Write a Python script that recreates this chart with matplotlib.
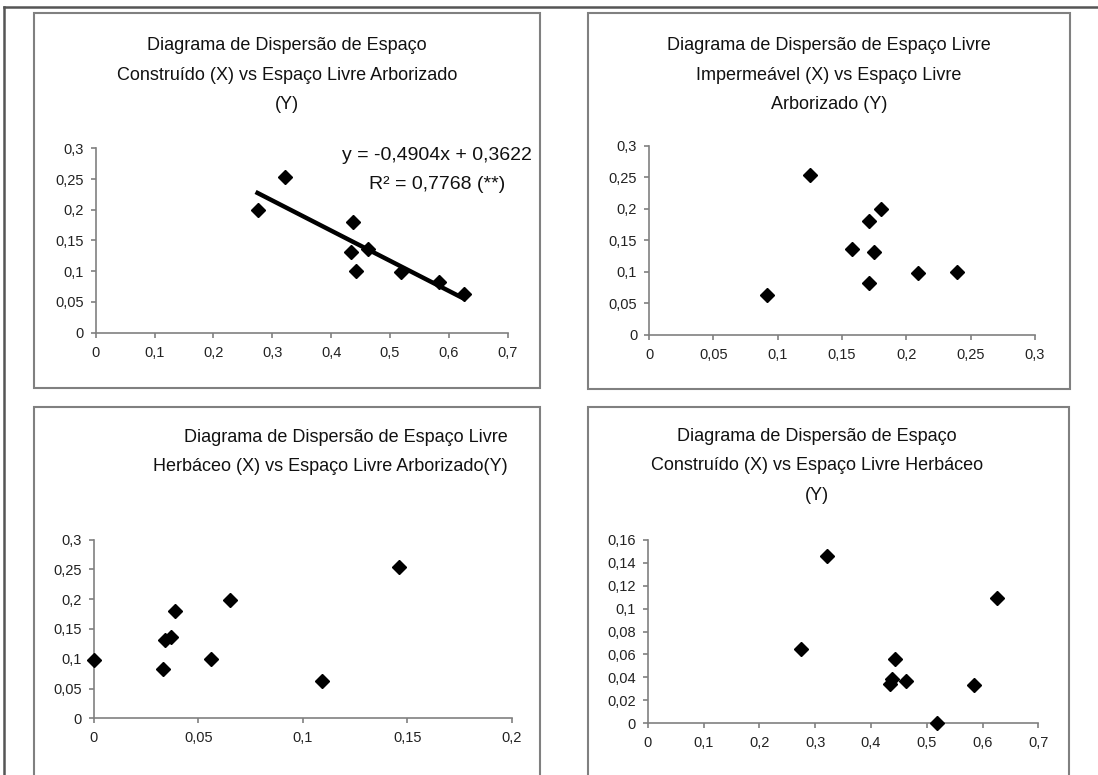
import matplotlib.pyplot as plt
import numpy as np
from matplotlib.patches import Rectangle
from matplotlib.lines import Line2D
from matplotlib.ticker import FuncFormatter, MultipleLocator

plt.rcParams['font.family'] = ['Liberation Sans', 'DejaVu Sans']

# proportions per unit (same order in every array)
construido = [0.275, 0.322, 0.434, 0.437, 0.443, 0.463, 0.519, 0.584, 0.626]
impermeavel = [0.180, 0.125, 0.175, 0.171, 0.239, 0.158, 0.209, 0.171, 0.092]
herbaceo = [0.065, 0.146, 0.034, 0.039, 0.056, 0.037, 0.000, 0.033, 0.109]
arborizado = [0.199, 0.254, 0.131, 0.180, 0.100, 0.136, 0.098, 0.082, 0.063]

# trendline given in the first chart
slope, intercept = -0.4904, 0.3622
eq_text = "y = -0,4904x + 0,3622\nR² = 0,7768 (**)"

titles = [
    "Diagrama de Dispersão de Espaço\nConstruído (X) vs Espaço Livre Arborizado\n(Y)",
    "Diagrama de Dispersão de Espaço Livre\nImpermeável (X) vs Espaço Livre\nArborizado (Y)",
    "Diagrama de Dispersão de Espaço Livre\nHerbáceo (X) vs Espaço Livre Arborizado(Y)",
    "Diagrama de Dispersão de Espaço\nConstruído (X) vs Espaço Livre Herbáceo\n(Y)",
]

W, H = 1098, 775
fig = plt.figure(figsize=(W / 100, H / 100), dpi=100)


def fx(px):
    return px / W


def fy(py):
    return 1 - py / H


# outer frame (top and left lines)
fig.add_artist(Line2D([fx(4), 1], [fy(7), fy(7)], color='#555555', lw=1.8))
fig.add_artist(Line2D([fx(4), fx(4)], [fy(7), 0], color='#555555', lw=1.8))

# panel frames: left, top, right, bottom in pixels
panels = [(34, 13, 540, 388), (588, 13, 1070, 389),
          (34, 407, 540, 790), (588, 407, 1069, 790)]
for l, t, r, b in panels:
    fig.add_artist(Rectangle((fx(l), fy(b)), fx(r) - fx(l), fy(t) - fy(b),
                             fill=False, edgecolor='#808080', lw=1.5))

fmt = FuncFormatter(lambda v, p: f"{v:g}".replace('.', ','))

# plot areas: x0, x1, ytop, ybottom in pixels
areas = [(95.7, 507.7, 148.3, 332.7), (649, 1035, 145.7, 335),
         (93.7, 511.7, 539.5, 718.3), (647.7, 1038.3, 539.8, 723.3)]
xlims = [(0, 0.7, 0.1), (0, 0.3, 0.05), (0, 0.2, 0.05), (0, 0.7, 0.1)]
ylims = [(0, 0.3, 0.05), (0, 0.3, 0.05), (0, 0.3, 0.05), (0, 0.16, 0.02)]
series = [(construido, arborizado), (impermeavel, arborizado),
          (herbaceo, arborizado), (construido, herbaceo)]

axes = []
for (x0, x1, yt, yb), xl, yl, (xs, ys) in zip(areas, xlims, ylims, series):
    ax = fig.add_axes([fx(x0), fy(yb), fx(x1) - fx(x0), fy(yt) - fy(yb)])
    ax.plot(xs, ys, linestyle='none', marker='D', ms=7.6, color='black',
            clip_on=False, zorder=3)
    ax.set_xlim(xl[0], xl[1])
    ax.set_ylim(yl[0], yl[1])
    ax.xaxis.set_major_locator(MultipleLocator(xl[2]))
    ax.yaxis.set_major_locator(MultipleLocator(yl[2]))
    ax.xaxis.set_major_formatter(fmt)
    ax.yaxis.set_major_formatter(fmt)
    for s in ['top', 'right']:
        ax.spines[s].set_visible(False)
    for s in ['left', 'bottom']:
        ax.spines[s].set_color('#808080')
        ax.spines[s].set_linewidth(1.2)
    ax.tick_params(direction='out', length=3.5, width=1.2, color='#808080',
                   labelsize=10.5, labelcolor='#222222')
    ax.tick_params(axis='x', pad=6)
    ax.tick_params(axis='y', pad=5)
    ax.patch.set_visible(False)
    axes.append(ax)

# trendline on first chart
xfit = np.array([min(construido), max(construido)])
axes[0].plot(xfit, slope * xfit + intercept, color='black', lw=3.2, zorder=2)
fig.text(fx(437), fy(170), eq_text, ha='center', va='center', fontsize=14,
         linespacing=1.9, color='#111111')

# titles
kw = dict(fontsize=13, linespacing=1.95, color='#111111', va='center')
fig.text(fx(287), fy(75), titles[0], ha='center', **kw)
fig.text(fx(829), fy(75), titles[1], ha='center', **kw)
fig.text(fx(508), fy(452), titles[2], ha='right', multialignment='right', **kw)
fig.text(fx(817), fy(466), titles[3], ha='center', **kw)

fig.savefig('out.png', dpi=100)
